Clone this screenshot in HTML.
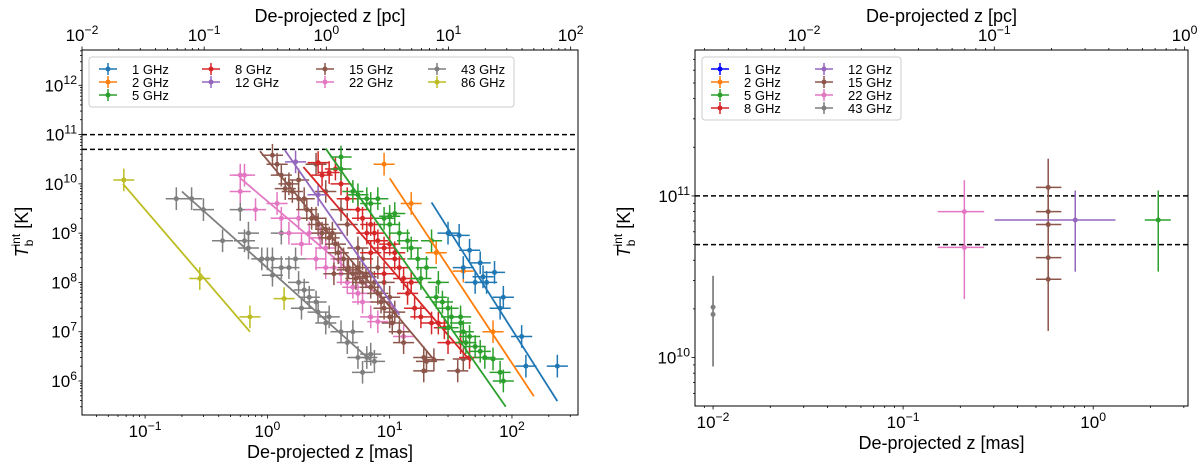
<!DOCTYPE html>
<html><head><meta charset="utf-8">
<style>
html,body{margin:0;padding:0;background:#fff;}
svg{display:block;font-family:"Liberation Sans","DejaVu Sans",sans-serif;}
</style></head>
<body>
<svg id="c" width="1200" height="465" viewBox="0 0 1200 465" xmlns="http://www.w3.org/2000/svg"></svg>
<script>
// ---------- LEFT PANEL DATA ----------
const leftSeriesNames = ["1 GHz","2 GHz","5 GHz","8 GHz","12 GHz","15 GHz","22 GHz","43 GHz","86 GHz"];
const leftColors = ["#1f77b4","#ff7f0e","#2ca02c","#d62728","#9467bd","#8c564b","#e377c2","#7f7f7f","#bcbd22"];
const x1GHz = [30,37,45,40,55,50,62,72,85,80,120,130,235,58];
const y1GHz = [1e9,9e8,4.5e8,2e8,2.5e8,1e8,1e8,1.6e8,5e7,3e7,8e6,2e6,2e6,1.3e8];
const x2GHz = [9,15,24,40,70];
const y2GHz = [2.5e10,4e9,4e8,1.7e8,1e7];
const x5GHz = [4,4,5,5.5,6.5,8,7,9,10,11,10,12,14,15,17,20,22,18,25,24,27,30,32,38,40,45,50,55,60,70,80,85,30,38,42];
const y5GHz = [3.5e10,2e10,7e9,6e9,5e9,5e9,4e9,2e9,2.2e9,2.5e9,1.5e9,1e9,7e8,5e8,3e8,2e8,7e8,1.2e8,1e8,5e7,4e7,3e7,2e7,1.5e7,1e7,8e6,5e6,4e6,3e6,2.8e6,1.5e6,1e6,1.2e7,2e7,6e6];
const x8GHz = [2.6,3.2,2.8,3.6,4,4.5,5.5,6,7,6.5,7.5,8,9,7,10,11,12,13,15,14,16,18,22,25,28,30,38,45,9,11];
const y8GHz = [2.7e10,1.7e10,1.5e10,2e10,1e10,5e9,3e9,2e9,1.5e9,1e9,1e9,7e8,5e8,4e8,6e8,4e8,2e8,1.2e8,1e8,6e7,3e7,2e7,1.5e7,1.5e7,1.2e7,6e6,6e6,3e6,1.5e8,3e8];
const x12GHz = [1.7,2.6];
const y12GHz = [2.8e10,6e9];
const x15GHz = [1.1,1.2,1.3,1.4,1.5,1.6,1.8,2,2.1,2.3,2.5,2.6,2.8,3,3.2,3.4,3.6,3.8,4.2,4.6,5,5.3,5.7,6,6.4,7,7.5,8,8.5,9,10,10.5,11,12,13,19,20,19,23,36,40,2.5,1.8,3,4,4.5,5.5,6,3.5,4.5,5.5,7,8,9,10];
const y15GHz = [3.8e10,2.5e10,1.5e10,8e9,1e10,7e9,5e9,5e9,3e9,2e9,2e9,1.5e9,1e9,1.2e9,8e8,1e9,6e8,4e8,3e8,2e8,1.5e8,1.2e8,1.6e8,1e8,1.3e8,8e7,1e8,6e7,4e7,3e7,2e7,1.5e7,2.5e7,1e7,6e6,3e6,2.5e6,1.6e6,2.7e6,1.6e6,2.8e6,2.5e10,1.2e10,7e9,3e9,1.5e9,5e8,3e8,1.5e8,1.8e8,2e8,1.5e8,2e8,1e8,5e7];
const x22GHz = [0.6,0.6,0.65,0.8,1.2,1.3,1.5,1.8,1.9,2.2,2.5,3,3.5,4,4.5,5,5.5,6,7,8,13,4,3,2.7];
const y22GHz = [1.5e10,7e9,1.5e10,3e9,4e9,2e9,1e9,2e9,6e8,1e9,3e8,2e8,2e8,1.5e8,1e8,8e7,6e7,4e7,2e7,1.6e7,8e6,3e8,5e8,8e8];
const x43GHz = [0.18,0.24,0.3,0.6,0.43,0.65,0.7,0.7,0.9,1.0,1.1,1.3,1.3,1.5,1.7,1.8,2,2.2,2.5,2.6,3,3.2,4,4.5,5.5,6.5,7.5,6,7,5,1.1,1.9];
const y43GHz = [5e9,5e9,3e9,3e9,7e8,7e8,1e9,5e8,3e8,3e8,3e8,1e9,2e8,2e8,3e8,1e8,7e7,5e7,4e7,2.5e7,1.5e7,2e7,1e7,6e6,3e6,3e6,2.5e6,1.5e6,3.5e6,1e7,1.4e8,3e7];
const x86GHz = [0.067,0.28,0.72,1.37];
const y86GHz = [1.2e10,1.2e8,2e7,4.7e7];
const fitX0 = [22,10,3,1.97,1.39,0.87,0.6,0.2,0.066];
const fitY0 = [4.2e9,1.3e10,5.2e10,2.2e10,4.8e10,4.6e10,1.3e10,7e9,1e10];
const fitX1 = [235,151,89,46,12,23,12,6.9,0.72];
const fitY1 = [3.9e5,4.9e5,3e5,2.5e6,2.2e7,2.7e6,2.4e7,2.7e6,1e7];
const thresholds = [1e11,5e10];
// ---------- RIGHT PANEL DATA ----------
const rightSeriesNames = ["1 GHz","2 GHz","5 GHz","8 GHz","12 GHz","15 GHz","22 GHz","43 GHz"];
const rightColors = ["#0000ff","#ff7f0e","#2ca02c","#d62728","#9467bd","#8c564b","#e377c2","#7f7f7f"];
const rPtSeries = [7,7,6,6,5,5,5,5,5,4,2];
const rPtX = [0.01,0.01,0.21,0.21,0.58,0.58,0.58,0.58,0.58,0.805,2.2];
const rPtY = [2.05e10,1.85e10,8e10,4.8e10,1.13e11,8e10,6.65e10,4.15e10,3.05e10,7.1e10,7.1e10];
const rPtXlo = [0.01,0.01,0.152,0.152,0.5,0.5,0.5,0.5,0.5,0.303,1.87];
const rPtXhi = [0.01,0.01,0.267,0.267,0.68,0.68,0.68,0.68,0.68,1.31,2.56];
const rPtYlo = [8.8e9,8.8e9,5e10,2.3e10,8e10,6.5e10,5e10,3e10,1.46e10,3.4e10,3.4e10];
const rPtYhi = [3.2e10,3.2e10,1.25e11,8e10,1.7e11,1.13e11,8e10,6.65e10,4.15e10,1.08e11,1.08e11];

const NS="http://www.w3.org/2000/svg";
const svg=document.getElementById('c');
function el(tag,attrs,parent){const e=document.createElementNS(NS,tag);for(const k in attrs)e.setAttribute(k,attrs[k]);(parent||svg).appendChild(e);return e;}
function sup(parent,x,y,base,exp,anchor,size,name){
  const t=el('text',{x:x,y:y,'text-anchor':anchor,'font-size':size,fill:'#000'},parent);
  
  
  const a=el('tspan',{},t);a.textContent=base;
  const b=el('tspan',{dy:-size*0.42,'font-size':size*0.72},t);b.textContent=exp;
  return t;
}
function makeAxis(x0,x1,lx0,lx1){return v=>x0+(Math.log10(v)-lx0)/(lx1-lx0)*(x1-x0);}

function panel(P){
  const g=el('g',{});
  
  
  const X=makeAxis(P.L,P.R,P.bx0,P.bx1), Xt=makeAxis(P.L,P.R,P.tx0,P.tx1);
  const Y=v=>P.B-(Math.log10(v)-P.ly0)/(P.ly1-P.ly0)*(P.B-P.T);
  const clip='clip'+P.name;
  const cp=el('clipPath',{id:clip},g);el('rect',{x:P.L,y:P.T,width:P.R-P.L,height:P.B-P.T},cp);
  const tg=el('g',{stroke:'#000','stroke-width':0.8},g);
  function logTicks(lo,hi,cb){for(let d=Math.floor(lo);d<=Math.ceil(hi);d++)for(let m=1;m<10;m++){const l=d+Math.log10(m);if(l>=lo-1e-6&&l<=hi+1e-6)cb(Math.pow(10,l),m===1,d);}}
  const FS=17;
  logTicks(P.bx0,P.bx1,(v,maj,d)=>{const x=X(v);el('line',{x1:x,x2:x,y1:P.B,y2:P.B+(maj?3.5:2)},tg);
    if(maj)sup(g,x,P.B+22,'10',d<0?'\u2212'+(-d):String(d),'middle',FS,'x-tick-label');});
  logTicks(P.tx0,P.tx1,(v,maj,d)=>{const x=Xt(v);el('line',{x1:x,x2:x,y1:P.T,y2:P.T-(maj?3.5:2)},tg);
    if(maj)sup(g,x,P.T-9,'10',d<0?'\u2212'+(-d):String(d),'middle',FS,'top-x-tick-label');});
  logTicks(P.ly0,P.ly1,(v,maj,d)=>{const y=Y(v);el('line',{x1:P.L,x2:P.L-(maj?3.5:2),y1:y,y2:y},tg);
    if(maj)sup(g,P.L-5,y+6,'10',String(d),'end',FS,'y-tick-label');});
  const pg=el('g',{'clip-path':'url(#'+clip+')'},g);
  thresholds.forEach(v=>{const l=el('line',{x1:P.L,x2:P.R,y1:Y(v),y2:Y(v),stroke:'#000','stroke-width':1.5,'stroke-dasharray':'5,3'},pg);
    
    });
  P.draw(pg,X,Y);
  const fr=el('rect',{x:P.L,y:P.T,width:P.R-P.L,height:P.B-P.T,fill:'none',stroke:'#000','stroke-width':1},g);
  
  
  const bt=el('text',{x:(P.L+P.R)/2,y:P.B+43,'text-anchor':'middle','font-size':18},g);bt.textContent='De-projected z [mas]';
  
  
  const tt=el('text',{x:(P.L+P.R)/2,y:22,'text-anchor':'middle','font-size':18},g);tt.textContent='De-projected z [pc]';
  
  
  const yt=el('text',{transform:'translate('+P.ylx+',232) rotate(-90)','text-anchor':'middle','font-size':18},g);
  
  
  const a=el('tspan',{'font-style':'italic'},yt);a.textContent='T';
  const b=el('tspan',{dy:5,'font-size':12},yt);b.textContent='b';
  const c=el('tspan',{dy:-13,dx:-7,'font-size':12},yt);c.textContent='int';
  const d=el('tspan',{dy:8},yt);d.textContent=' [K]';
  const lg=el('g',{},g);
  
  
  el('rect',{x:P.leg.x,y:P.leg.y,width:P.leg.w,height:P.leg.h,rx:3,fill:'#fff',stroke:'#ccc','stroke-width':1},lg);
  P.leg.slots.forEach((sl,i)=>{const mx=P.leg.cx[sl[0]],my=P.leg.y+12+sl[1]*P.leg.dy;const col=P.leg.colors[i];
    const e=el('g',{},lg);
    
    
    el('line',{x1:mx-9,x2:mx+9,y1:my,y2:my,stroke:col,'stroke-width':1.5},e);
    el('line',{x1:mx,x2:mx,y1:my-6,y2:my+6,stroke:col,'stroke-width':1.5},e);
    el('circle',{cx:mx,cy:my,r:2.5,fill:col},e);
    const t=el('text',{x:mx+24,y:my+5,'font-size':13},e);t.textContent=P.leg.names[i];});
}

const leftX=[x1GHz,x2GHz,x5GHz,x8GHz,x12GHz,x15GHz,x22GHz,x43GHz,x86GHz];
const leftY=[y1GHz,y2GHz,y5GHz,y8GHz,y12GHz,y15GHz,y22GHz,y43GHz,y86GHz];
const drawOrder=[7,6,5,4,3,2,1,0,8];
panel({name:'left-panel',L:82,R:578,T:50,B:415,bx0:-1.516,bx1:2.54,tx0:-2.0,tx1:2.06,ly0:5.31,ly1:12.716,ylx:28,
  leg:{x:89,y:57,w:425,h:50,dy:13,cx:[108,211,325,437],slots:[[0,0],[0,1],[0,2],[1,0],[1,1],[2,0],[2,1],[3,0],[3,1]],names:leftSeriesNames,colors:leftColors},
  draw:(pg,X,Y)=>{
    drawOrder.forEach(s=>{
      const sg=el('g',{},pg);
      
      
      const col=leftColors[s];
      leftX[s].forEach((xv,i)=>{const yv=leftY[s][i];
        const p=el('g',{stroke:col,'stroke-width':1.5},sg);
        
        
        el('line',{x1:X(xv/1.22),x2:X(xv*1.22),y1:Y(yv),y2:Y(yv)},p);
        el('line',{x1:X(xv),x2:X(xv),y1:Y(yv*1.7),y2:Y(yv/1.7)},p);
        el('circle',{cx:X(xv),cy:Y(yv),r:2.5,fill:col,stroke:'none'},p);});
      const f=el('line',{x1:X(fitX0[s]),y1:Y(fitY0[s]),x2:X(fitX1[s]),y2:Y(fitY1[s]),stroke:col,'stroke-width':1.8},sg);
      
      
    });
  }});
panel({name:'right-panel',L:695,R:1188,T:50,B:406,bx0:-2.095,bx1:0.499,tx0:-2.573,tx1:0.018,ly0:9.70,ly1:11.903,ylx:630,
  leg:{x:702,y:57,w:199,h:63,dy:13,cx:[720,824],slots:[[0,0],[0,1],[0,2],[0,3],[1,0],[1,1],[1,2],[1,3]],names:rightSeriesNames,colors:rightColors},
  draw:(pg,X,Y)=>{
    rPtX.forEach((xv,i)=>{const c=rightColors[rPtSeries[i]];
      const p=el('g',{stroke:c,'stroke-width':1.5},pg);
      
      
      if(rPtXhi[i]>rPtXlo[i])el('line',{x1:X(rPtXlo[i]),x2:X(rPtXhi[i]),y1:Y(rPtY[i]),y2:Y(rPtY[i])},p);
      el('line',{x1:X(xv),x2:X(xv),y1:Y(rPtYhi[i]),y2:Y(rPtYlo[i])},p);
      el('circle',{cx:X(xv),cy:Y(rPtY[i]),r:2.5,fill:c,stroke:'none'},p);});
  }});
</script>
</body></html>
